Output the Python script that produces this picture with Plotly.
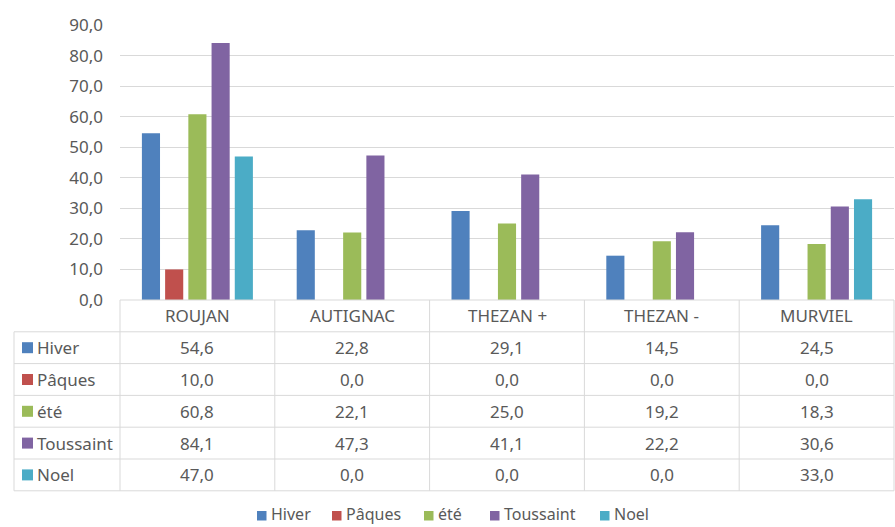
import plotly.graph_objects as go

# données
communes = ["ROUJAN", "AUTIGNAC", "THEZAN +", "THEZAN -", "MURVIEL"]
periodes = ["Hiver", "Pâques", "été", "Toussaint", "Noel"]
hiver = [54.6, 22.8, 29.1, 14.5, 24.5]
paques = [10.0, 0.0, 0.0, 0.0, 0.0]
ete = [60.8, 22.1, 25.0, 19.2, 18.3]
toussaint = [84.1, 47.3, 41.1, 22.2, 30.6]
noel = [47.0, 0.0, 0.0, 0.0, 33.0]
y_ticks = list(range(0, 91, 10))

series = [hiver, paques, ete, toussaint, noel]
couleurs = ["#4F81BD", "#C0504D", "#9BBB59", "#8064A2", "#4BACC6"]

W, H = 895, 527
FONT = "Noto Sans"
FS = 17
GREY_TXT = "#595959"
GRID = "#D9D9D9"

# geometry of plot area / table (pixels)
X0, X1 = 120, 894
Y_TOP, Y_ZERO = 25, 300
ROW_H = 31.8
TAB_LEFT = 14
COL_W = (X1 - X0) / len(communes)


def px(x):
    return x / W


def py(y):
    return 1 - y / H


def fmt(v):
    return f"{v:.1f}".replace(".", ",")


fig = go.Figure()
for name, vals, col in zip(periodes, series, couleurs):
    fig.add_trace(go.Bar(
        x=communes, y=vals, name=name,
        marker=dict(color=col, line=dict(width=0)),
        showlegend=False,
        hovertemplate="%{x}<br>" + name + ": %{y:.1f}<extra></extra>"
    ))

shapes = []
annotations = []
line = dict(color=GRID, width=1)

# table grid
n_rows = len(periodes)
y_bottom = Y_ZERO + ROW_H * (n_rows + 1)
shapes.append(dict(type="line", xref="paper", yref="paper",
                   x0=px(X0), x1=px(X1), y0=py(Y_ZERO), y1=py(Y_ZERO), line=line))
for r in range(1, n_rows + 2):
    yy = Y_ZERO + ROW_H * r
    shapes.append(dict(type="line", xref="paper", yref="paper",
                       x0=px(TAB_LEFT), x1=px(X1), y0=py(yy), y1=py(yy), line=line))
shapes.append(dict(type="line", xref="paper", yref="paper",
                   x0=px(TAB_LEFT), x1=px(TAB_LEFT), y0=py(Y_ZERO + ROW_H), y1=py(y_bottom), line=line))
for c in range(len(communes) + 1):
    xx = X0 + COL_W * c
    shapes.append(dict(type="line", xref="paper", yref="paper",
                       x0=px(xx), x1=px(xx), y0=py(Y_ZERO), y1=py(y_bottom), line=line))

txt_font = dict(family=FONT, size=FS, color=GREY_TXT)

# header
for c, name in enumerate(communes):
    annotations.append(dict(xref="paper", yref="paper", x=px(X0 + COL_W * (c + 0.5)),
                            y=py(Y_ZERO + ROW_H / 2), text=name, showarrow=False,
                            xanchor="center", yanchor="middle", font=txt_font))

# rows
for r, (name, vals, col) in enumerate(zip(periodes, series, couleurs)):
    yc = Y_ZERO + ROW_H * (r + 1.5)
    shapes.append(dict(type="rect", xref="paper", yref="paper",
                       x0=px(22), x1=px(33), y0=py(yc - 5.5), y1=py(yc + 5.5),
                       fillcolor=col, line=dict(width=0)))
    annotations.append(dict(xref="paper", yref="paper", x=px(35), y=py(yc),
                            text=name, showarrow=False, xanchor="left", yanchor="middle",
                            font=txt_font))
    for c, v in enumerate(vals):
        annotations.append(dict(xref="paper", yref="paper", x=px(X0 + COL_W * (c + 0.5)),
                                y=py(yc), text=fmt(v), showarrow=False,
                                xanchor="center", yanchor="middle", font=txt_font))

# legend below the table
leg_x = [257, 332, 424, 490, 600]
leg_y = 514
leg_font = dict(family=FONT, size=16, color=GREY_TXT)
for name, col, lx in zip(periodes, couleurs, leg_x):
    shapes.append(dict(type="rect", xref="paper", yref="paper",
                       x0=px(lx), x1=px(lx + 9.5), y0=py(leg_y - 3), y1=py(leg_y + 6.5),
                       fillcolor=col, line=dict(width=0)))
    annotations.append(dict(xref="paper", yref="paper", x=px(lx + 12), y=py(leg_y),
                            text=name, showarrow=False, xanchor="left", yanchor="middle",
                            font=leg_font))

fig.update_layout(
    width=W, height=H,
    margin=dict(l=0, r=0, t=0, b=0, autoexpand=False),
    paper_bgcolor="white", plot_bgcolor="white",
    separators=", ",
    barmode="group", bargap=0.25, bargroupgap=0.22,
    font=dict(family=FONT, size=FS, color=GREY_TXT),
    shapes=shapes, annotations=annotations,
    xaxis=dict(domain=[px(X0), px(X1)], showticklabels=False, showgrid=False,
               showline=False, zeroline=False, fixedrange=True, automargin=False),
    yaxis=dict(domain=[py(Y_ZERO), py(Y_TOP)], range=[0, 90], tickvals=y_ticks,
               tickformat=".1f", showgrid=True, gridcolor=GRID, gridwidth=1,
               zeroline=False, showline=False, ticks="", ticklabelstandoff=16,
               automargin=False,
               tickfont=dict(family=FONT, size=FS, color=GREY_TXT)),
)

fig.write_html("out.html", config={"displayModeBar": False},
               post_script="document.body.style.margin='0';")
